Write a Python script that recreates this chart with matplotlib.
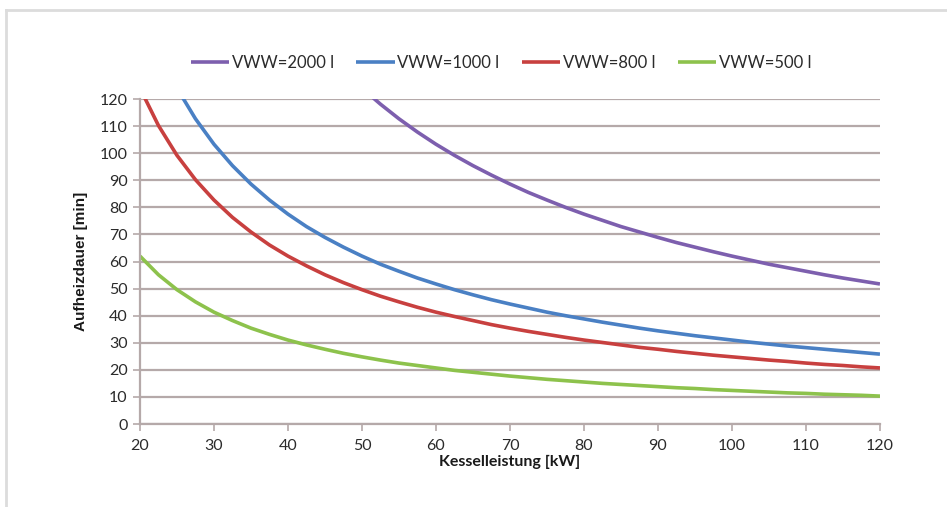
import matplotlib
matplotlib.use("Agg")
import matplotlib.pyplot as plt
from matplotlib.lines import Line2D

plt.rcParams['font.family'] = ['Lato', 'DejaVu Sans']

# Boiler power [kW]
power = [20, 22.5, 25, 27.5, 30, 32.5, 35, 37.5, 40, 42.5, 45, 47.5, 50, 52.5,
         55, 57.5, 60, 62.5, 65, 67.5, 70, 72.5, 75, 77.5, 80, 82.5, 85, 87.5,
         90, 92.5, 95, 97.5, 100, 102.5, 105, 107.5, 110, 112.5, 115, 117.5, 120]

# Heating time [min] per storage volume
t_500 = [62, 55.1, 49.6, 45.1, 41.3, 38.2, 35.4, 33.1, 31, 29.2, 27.6, 26.1,
         24.8, 23.6, 22.5, 21.6, 20.7, 19.8, 19.1, 18.4, 17.7, 17.1, 16.5, 16,
         15.5, 15, 14.6, 14.2, 13.8, 13.4, 13.1, 12.7, 12.4, 12.1, 11.8, 11.5,
         11.3, 11, 10.8, 10.6, 10.3]
t_800 = [124, 110.2, 99.2, 90.2, 82.7, 76.3, 70.9, 66.1, 62, 58.4, 55.1, 52.2,
         49.6, 47.2, 45.1, 43.1, 41.3, 39.7, 38.2, 36.7, 35.4, 34.2, 33.1, 32,
         31, 30.1, 29.2, 28.3, 27.6, 26.8, 26.1, 25.4, 24.8, 24.2, 23.6, 23.1,
         22.5, 22, 21.6, 21.1, 20.7]
power_1000 = power[2:]
t_1000 = [124, 112.7, 103.3, 95.4, 88.6, 82.7, 77.5, 72.9, 68.9, 65.3, 62, 59,
          56.4, 53.9, 51.7, 49.6, 47.7, 45.9, 44.3, 42.8, 41.3, 40, 38.8, 37.6,
          36.5, 35.4, 34.4, 33.5, 32.6, 31.8, 31, 30.2, 29.5, 28.8, 28.2, 27.6,
          27, 26.4, 25.8]
power_2000 = power[12:]
t_2000 = [124, 118.1, 112.7, 107.8, 103.3, 99.2, 95.4, 91.9, 88.6, 85.5, 82.7,
          80, 77.5, 75.2, 72.9, 70.9, 68.9, 67, 65.3, 63.6, 62, 60.5, 59, 57.7,
          56.4, 55.1, 53.9, 52.8, 51.7]

labels = ["VWW=2000 l", "VWW=1000 l", "VWW=800 l", "VWW=500 l"]
colors = ["#7D5FAE", "#4A80C4", "#C8403F", "#8DC24C"]

fig = plt.figure(figsize=(9.47, 5.07), dpi=100)
ax = fig.add_axes([0.1478, 0.1637, 0.7814, 0.641])

series = [(power_2000, t_2000), (power_1000, t_1000), (power, t_800), (power, t_500)]
for (x, y), lab, c in zip(series, labels, colors):
    ax.plot(x, y, color=c, lw=2.6, label=lab, solid_capstyle='butt')

ax.set_xlim(20, 120)
ax.set_ylim(0, 120)
ax.set_xticks(range(20, 121, 10))
ax.set_yticks(range(0, 121, 10))

grid_c = "#B5A9A9"
ax.yaxis.grid(True, color=grid_c, lw=1.6)
ax.set_axisbelow(True)
for s in ("top", "right"):
    ax.spines[s].set_visible(False)
for s in ("left", "bottom"):
    ax.spines[s].set_color(grid_c)
    ax.spines[s].set_linewidth(1.6)
ax.tick_params(axis='both', colors=grid_c, length=5, width=1.2,
               labelcolor="#2B2B2B", labelsize=11.5)
ax.tick_params(axis='x', pad=6)
ax.tick_params(axis='y', pad=4)

ax.set_xlabel("Kesselleistung [kW]", fontsize=11.5, fontweight='bold',
              color="#1A1A1A", labelpad=1)
ax.set_ylabel("Aufheizdauer [min]", fontsize=11, fontweight='bold',
              color="#1A1A1A", labelpad=8, family=['Liberation Sans', 'DejaVu Sans'])

leg = fig.legend(loc='center', bbox_to_anchor=(0.529, 0.876), ncol=4,
                 frameon=False, fontsize=12, handlelength=2.3,
                 handletextpad=0.15, columnspacing=1.35)
for t in leg.get_texts():
    t.set_color("#2B2B2B")

# light outer frame
frame_c = "#DCDCDC"
fig.add_artist(Line2D([0.006, 1.0], [0.981, 0.981], transform=fig.transFigure,
                      color=frame_c, lw=2))
fig.add_artist(Line2D([0.0065, 0.0065], [0.0, 0.981], transform=fig.transFigure,
                      color=frame_c, lw=2))

fig.savefig("out.png", dpi=100, facecolor="white")
